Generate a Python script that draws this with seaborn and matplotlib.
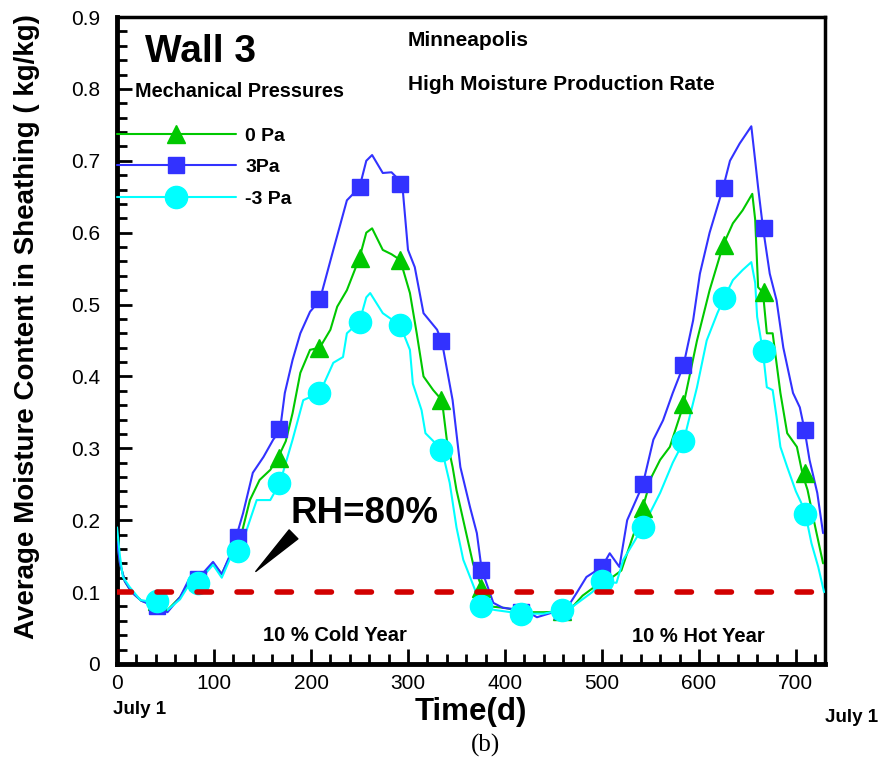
import matplotlib
matplotlib.use("Agg")
import matplotlib.pyplot as plt
from matplotlib.lines import Line2D
from matplotlib.ticker import MultipleLocator, FuncFormatter
import seaborn as sns

#%% data
days_3pa = [0, 3, 8, 15, 25, 42, 52, 65, 75, 83, 99, 108, 116, 124, 130, 140, 151, 161, 168, 173,
            181, 189, 199, 209, 223, 237, 250, 257, 263, 274, 283, 294, 300, 307, 316, 330, 335, 346,
            354, 364, 371, 376, 388, 398, 420, 433, 450, 465, 474, 484, 500, 508, 518, 526, 542, 553,
            563, 573, 584, 594, 601, 611, 625, 632, 642, 649, 654, 658, 661, 666, 673, 680, 687, 697,
            704, 709, 714, 722, 728]
mc_3pa = [0.17, 0.14, 0.115, 0.10, 0.088, 0.078, 0.072, 0.093, 0.12, 0.118, 0.142, 0.125, 0.15, 0.182,
          0.21, 0.266, 0.288, 0.312, 0.325, 0.377, 0.423, 0.46, 0.49, 0.506, 0.576, 0.645, 0.663, 0.70,
          0.708, 0.683, 0.684, 0.669, 0.576, 0.552, 0.488, 0.465, 0.448, 0.367, 0.274, 0.218, 0.182,
          0.131, 0.085, 0.078, 0.075, 0.065, 0.072, 0.08, 0.099, 0.121, 0.135, 0.154, 0.135, 0.20,
          0.249, 0.312, 0.339, 0.377, 0.415, 0.478, 0.543, 0.60, 0.663, 0.70, 0.724, 0.738, 0.748,
          0.70, 0.663, 0.607, 0.543, 0.506, 0.44, 0.377, 0.357, 0.325, 0.284, 0.238, 0.182]

days_0pa = [0, 3, 8, 15, 25, 42, 52, 65, 75, 83, 99, 108, 116, 125, 130, 137, 147, 158, 166, 174,
            181, 189, 199, 209, 220, 227, 237, 250, 257, 263, 274, 283, 292, 302, 309, 316, 326, 335,
            340, 346, 350, 357, 367, 376, 385, 400, 420, 440, 460, 470, 480, 490, 500, 510, 520, 530,
            542, 551, 560, 570, 584, 598, 611, 625, 635, 645, 655, 658, 661, 666, 670, 676, 684, 691,
            701, 707, 712, 720, 728]
mc_0pa = [0.175, 0.14, 0.115, 0.10, 0.088, 0.08, 0.075, 0.093, 0.115, 0.115, 0.14, 0.125, 0.148, 0.163,
          0.19, 0.228, 0.256, 0.27, 0.287, 0.31, 0.349, 0.405, 0.437, 0.44, 0.465, 0.497, 0.52, 0.565,
          0.60, 0.606, 0.576, 0.57, 0.562, 0.516, 0.46, 0.40, 0.381, 0.367, 0.312, 0.274, 0.242, 0.20,
          0.14, 0.107, 0.08, 0.078, 0.072, 0.072, 0.073, 0.08, 0.095, 0.105, 0.12, 0.12, 0.13, 0.17,
          0.217, 0.26, 0.284, 0.302, 0.36, 0.45, 0.52, 0.583, 0.613, 0.631, 0.654, 0.618, 0.524, 0.517,
          0.46, 0.46, 0.377, 0.321, 0.302, 0.263, 0.242, 0.19, 0.14]

days_m3pa = [0, 3, 6, 13, 24, 42, 52, 65, 75, 83, 99, 108, 116, 126, 130, 144, 158, 168, 181, 192,
             209, 223, 233, 237, 250, 257, 261, 274, 292, 302, 305, 314, 318, 335, 343, 350, 357, 364,
             376, 390, 417, 440, 458, 470, 480, 490, 500, 515, 522, 542, 560, 573, 584, 598, 608, 619,
             626, 635, 645, 654, 658, 660, 666, 670, 676, 680, 684, 691, 700, 709, 716, 723, 729]
mc_m3pa = [0.19, 0.15, 0.121, 0.107, 0.089, 0.085, 0.075, 0.09, 0.112, 0.113, 0.138, 0.12, 0.145, 0.156,
           0.172, 0.228, 0.228, 0.252, 0.312, 0.367, 0.377, 0.419, 0.427, 0.46, 0.476, 0.51, 0.516,
           0.488, 0.471, 0.437, 0.39, 0.353, 0.321, 0.298, 0.252, 0.19, 0.145, 0.121, 0.079, 0.075,
           0.07, 0.07, 0.075, 0.08, 0.09, 0.10, 0.114, 0.113, 0.145, 0.19, 0.238, 0.28, 0.309, 0.385,
           0.45, 0.488, 0.509, 0.534, 0.548, 0.559, 0.53, 0.483, 0.434, 0.385, 0.381, 0.344, 0.302,
           0.274, 0.24, 0.214, 0.168, 0.135, 0.10]

# symbols every ~41.7 days
mark_days = [41.7, 83.4, 125.1, 166.8, 208.5, 250.2, 291.9, 333.6, 375.3, 417.0, 458.7, 500.4,
             542.1, 583.8, 625.5, 667.2, 708.9]
mark_0pa = [0.088, 0.115, 0.163, 0.287, 0.44, 0.565, 0.562, 0.367, 0.105, 0.072, 0.074, 0.12,
            0.217, 0.362, 0.583, 0.517, 0.265]
mark_3pa = [0.08, 0.118, 0.177, 0.327, 0.508, 0.663, 0.668, 0.449, 0.131, 0.072, 0.074, 0.135,
            0.25, 0.416, 0.662, 0.607, 0.326]
mark_m3pa = [0.087, 0.113, 0.157, 0.252, 0.377, 0.476, 0.471, 0.297, 0.081, 0.07, 0.075, 0.116,
             0.19, 0.31, 0.509, 0.435, 0.208]

rh80 = 0.1
labels = ["0 Pa", "3Pa", "-3 Pa"]
colors = ["#00c800", "#3232ff", "#00ffff"]
markers = ["^", "s", "o"]
msizes = [13, 12, 16]

#%% plot
sns.set_style("ticks")
plt.rcParams['font.family'] = ['Liberation Sans', 'DejaVu Sans']
plt.rcParams.update({"text.color": "black", "axes.labelcolor": "black",
                     "xtick.color": "black", "ytick.color": "black"})

fig = plt.figure(figsize=(8.82, 7.59), dpi=100)
ax = fig.add_axes([0.1327, 0.1252, 0.8027, 0.8524])

series = [(days_0pa, mc_0pa, mark_0pa), (days_3pa, mc_3pa, mark_3pa), (days_m3pa, mc_m3pa, mark_m3pa)]
for (d, v, m), c in zip(series, colors):
    sns.lineplot(x=d, y=v, ax=ax, color=c, lw=1.5, sort=False, zorder=3)
for (d, v, m), c, mk, ms in zip(series, colors, markers, msizes):
    ax.plot(mark_days, m, ls="none", marker=mk, ms=ms, color=c, mec=c, zorder=4)

ax.axhline(rh80, color="#d20000", lw=4, ls=(0, (2.6, 4.6)), dash_capstyle="round", zorder=5)

ax.set_xlim(0, 730)
ax.set_ylim(0, 0.9)
ax.xaxis.set_major_locator(MultipleLocator(100))
ax.xaxis.set_minor_locator(MultipleLocator(20))
ax.yaxis.set_major_locator(MultipleLocator(0.1))
ax.yaxis.set_minor_locator(MultipleLocator(0.02))
ax.yaxis.set_major_formatter(FuncFormatter(lambda v, p: "0" if abs(v) < 1e-9 else "%.1f" % v))
ax.tick_params(which="major", direction="in", length=11, width=2, labelsize=15, pad=7)
ax.tick_params(axis="y", which="major", pad=12)
ax.tick_params(which="minor", direction="in", length=7, width=2)
for side, w in [("left", 3.5), ("bottom", 3.5), ("right", 2.5), ("top", 2.5)]:
    ax.spines[side].set_linewidth(w)
    ax.spines[side].set_color("black")

ax.set_ylabel("Average Moisture Content in Sheathing ( kg/kg)", fontsize=20, fontweight="bold")
ax.yaxis.set_label_coords(-0.109, 0.521)
ax.set_xlabel("Time(d)", fontsize=22.5, fontweight="bold", labelpad=3)

# legend
handles = [Line2D([], [], color=c, lw=1.5, marker=mk, ms=ms) for c, mk, ms in zip(colors, markers, msizes)]
ax.legend(handles, labels, loc="upper left", bbox_to_anchor=(0.0, 0.83), frameon=False,
          handlelength=6.1, handletextpad=0.5, labelspacing=0.72, borderaxespad=0, borderpad=0,
          prop={"weight": "bold", "size": 14})

ax.text(29, 0.852, "Wall 3", fontsize=28, fontweight="bold", va="center", ha="left")
ax.text(19, 0.796, "Mechanical Pressures", fontsize=14.3, fontweight="bold", va="center", ha="left")
ax.text(300, 0.868, "Minneapolis", fontsize=15, fontweight="bold", va="center", ha="left")
ax.text(300, 0.806, "High Moisture Production Rate", fontsize=15, fontweight="bold", va="center", ha="left")
ax.text(179, 0.21, "RH=80%", fontsize=26.5, fontweight="bold", va="center", ha="left")
ax.text(150, 0.04, "10 % Cold Year", fontsize=14.5, fontweight="bold", va="center", ha="left")
ax.text(531, 0.038, "10 % Hot Year", fontsize=14.5, fontweight="bold", va="center", ha="left")
ax.annotate("", xy=(141, 0.126), xytext=(184, 0.183),
            arrowprops=dict(arrowstyle="wedge,tail_width=0.9,shrink_factor=0.5", fc="black", ec="black"))

fig.text(113 / 882, 1 - 710 / 759, "July 1", fontsize=13.5, fontweight="bold", va="center", ha="left")
fig.text(825 / 882, 1 - 718 / 759, "July 1", fontsize=13.5, fontweight="bold", va="center", ha="left")
fig.text(485 / 882, 1 - 745 / 759, "(b)", fontsize=18, family="Liberation Serif", va="center", ha="center")

fig.savefig("out.png", dpi=100)
